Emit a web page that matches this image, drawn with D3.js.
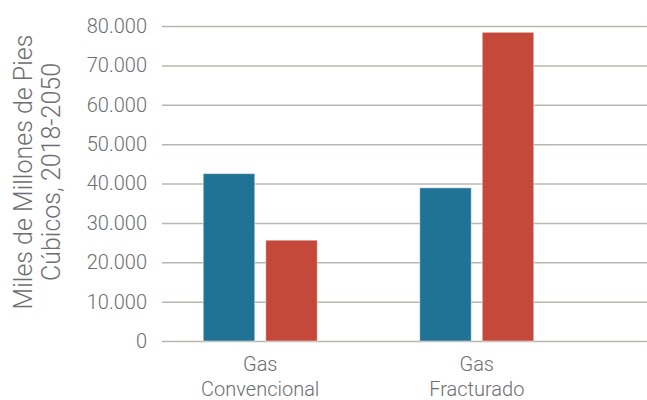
<!DOCTYPE html>
<html>
<head>
<meta charset="utf-8">
<script src="https://cdn.jsdelivr.net/npm/d3@7"></script>
<style>
  body { margin: 0; background: #fff; }
  text { font-family: Roboto, sans-serif; font-weight: 300; fill: #6d6e71; }
</style>
</head>
<body>
<div id="chart"></div>
<script>
// Data
const categories = ["Gas Convencional", "Gas Fracturado"];
const series = ["a", "b"];
const seriesA = [42500, 38900];
const seriesB = [25600, 78400];
const yTicks = [0, 10000, 20000, 30000, 40000, 50000, 60000, 70000, 80000];

const width = 647;
const height = 400;

const svg = d3.select("#chart")
  .append("svg")
  .attr("width", width)
  .attr("height", height);

// Scales
const y = d3.scaleLinear()
  .domain([0, 80000])
  .range([341, 26]);

const x0 = d3.scaleBand()
  .domain(categories)
  .range([152, 585])
  .padding(0);

const x1 = d3.scaleBand()
  .domain(series)
  .range([x0.bandwidth() / 2 - 57, x0.bandwidth() / 2 + 57])
  .paddingInner(0.176);

const color = d3.scaleOrdinal()
  .domain(series)
  .range(["#217396", "#c5493a"]);

// Grid lines + tick labels
const fmt = d => d === 0 ? "0" : d3.format(",")(d).replace(/,/g, ".");

const yAxis = svg.append("g")
  .attr("transform", "translate(162,0)")
  .call(d3.axisLeft(y).tickValues(yTicks).tickSize(-(width - 162)).tickPadding(15).tickFormat(fmt));
yAxis.select(".domain").remove();
yAxis.selectAll(".tick line").attr("stroke", "#bbb7ae").attr("stroke-width", 1.5);
yAxis.selectAll(".tick text").style("font-size", "20px").attr("fill", "#6d6e71");

// Bars
const rows = categories.map((c, i) => ({ cat: c, values: [
  { key: "a", value: seriesA[i] },
  { key: "b", value: seriesB[i] }
] }));

svg.append("g")
  .selectAll("g")
  .data(rows)
  .join("g")
  .attr("transform", d => `translate(${x0(d.cat)},0)`)
  .selectAll("rect")
  .data(d => d.values)
  .join("rect")
  .attr("x", d => x1(d.key))
  .attr("y", d => y(d.value))
  .attr("width", x1.bandwidth())
  .attr("height", d => y(0) - y(d.value))
  .attr("fill", d => color(d.key))
  .attr("stroke", "#ffffff")
  .attr("stroke-opacity", 0.45)
  .attr("stroke-width", 1);

// Category labels
const catLabels = svg.append("g")
  .selectAll("text")
  .data(categories)
  .join("text")
  .attr("text-anchor", "middle")
  .style("font-size", "20px");
catLabels.each(function(d) {
  const parts = d.split(" ");
  const cx = x0(d) + x0.bandwidth() / 2;
  d3.select(this).selectAll("tspan")
    .data(parts)
    .join("tspan")
    .attr("x", cx)
    .attr("y", (p, i) => 371 + i * 25)
    .text(p => p);
});

// Y axis title
const title = svg.append("text")
  .attr("transform", "translate(0,172) rotate(-90)")
  .attr("text-anchor", "middle")
  .style("font-size", "25px");
title.append("tspan").attr("x", 0).attr("y", 32).text("Miles de Millones de Pies");
title.append("tspan").attr("x", 0).attr("y", 60).text("Cúbicos, 2018-2050");
</script>
</body>
</html>
